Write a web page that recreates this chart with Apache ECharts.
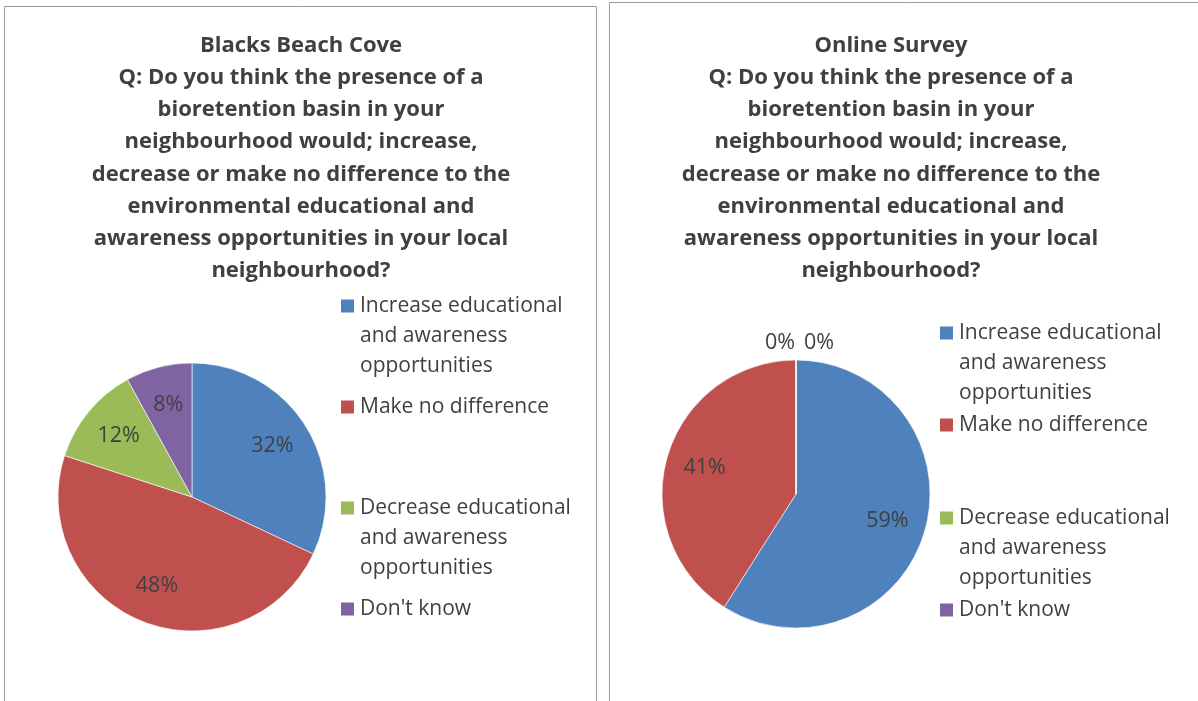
<!DOCTYPE html>
<html>
<head>
<meta charset="utf-8">
<title>Bioretention basin survey – educational and awareness opportunities</title>
<script src="https://cdn.jsdelivr.net/npm/echarts@6/dist/echarts.min.js"></script>
<style>
  html, body { margin: 0; padding: 0; background: #ffffff; }
  #chart { width: 1198px; height: 701px; }
</style>
</head>
<body>
<div id="chart"></div>
<script>
// Response categories (shared by both surveys)
const categories = [
  'Increase educational and awareness opportunities',
  'Make no difference',
  'Decrease educational and awareness opportunities',
  "Don't know"
];

// Share of respondents, in percent
const blacksBeachCove = [32, 48, 12, 8];
const onlineSurvey = [59, 41, 0, 0];

const question = 'Q: Do you think the presence of a\nbioretention basin in your\nneighbourhood would; increase,\ndecrease or make no difference to the\nenvironmental educational and\nawareness opportunities in your local\nneighbourhood?';
const titleLeft = 'Blacks Beach Cove\n' + question;
const titleRight = 'Online Survey\n' + question;

const colors = ['#4F81BD', '#C0504D', '#9BBB59', '#8064A2'];
const FONT = '"Open Sans", Lato, sans-serif';
const TEXT = '#404040';
const LINE_H = 30;
const R = 134;

const panels = [
  { title: titleLeft, titleX: 301, values: blacksBeachCove, center: [192, 497], legendX: 341, legendTops: [291, 392, 493, 594], box: { x: 4.5, y: 6.5, w: 592, h: 720 } },
  { title: titleRight, titleX: 891, values: onlineSurvey, center: [796, 494], legendX: 940, legendTops: [318, 410, 503, 595], box: { x: 609.5, y: 2.5, w: 620, h: 720 } }
];

// Greedy word wrap for the legend entries
function wrap(text, maxChars) {
  const words = text.split(' ');
  const lines = [];
  let cur = '';
  words.forEach(function (w) {
    const next = cur ? cur + ' ' + w : w;
    if (next.length > maxChars && cur) { lines.push(cur); cur = w; }
    else { cur = next; }
  });
  if (cur) lines.push(cur);
  return lines;
}

// Square legend marker sitting on the first text line, with an
// invisible anchor at the bottom so the icon box spans every line.
function markerPath(height) {
  return 'path://M0,0h0.01v0.01h-0.01z M0,8.5h13v13h-13z M0,' + (height - 0.01) + 'h0.01v0.01h-0.01z';
}

// Places each percentage label along the middle of its slice
function labelPlacer(values, center, radius) {
  const total = values.reduce(function (a, b) { return a + b; }, 0);
  return function (params) {
    const i = params.dataIndex;
    let before = 0;
    for (let k = 0; k < i; k++) before += values[k];
    const v = values[i];
    if (v === 0) {
      // zero-size slices: labels sit just outside the rim, side by side
      let zeroOrder = 0;
      for (let k = 0; k < i; k++) if (values[k] === 0) zeroOrder++;
      const ang = (before / total) * 2 * Math.PI;
      const bx = center[0] + (radius + 17) * Math.sin(ang);
      const by = center[1] - (radius + 17) * Math.cos(ang);
      return zeroOrder === 0
        ? { x: bx - 1, y: by, align: 'right', verticalAlign: 'middle' }
        : { x: bx + 8, y: by, align: 'left', verticalAlign: 'middle' };
    }
    const mid = ((before + v / 2) / total) * 2 * Math.PI;
    const k = 0.71;
    return {
      x: center[0] + k * radius * Math.sin(mid),
      y: center[1] - k * radius * Math.cos(mid),
      align: 'center',
      verticalAlign: 'middle'
    };
  };
}

const titles = [];
const legends = [];
const series = [];
const graphics = [];

panels.forEach(function (p, pi) {
  graphics.push({
    type: 'rect',
    shape: { x: p.box.x, y: p.box.y, width: p.box.w, height: p.box.h },
    style: { fill: 'none', stroke: '#9a9a9a', lineWidth: 1 },
    silent: true,
    z: -10
  });

  titles.push({
    text: p.title,
    left: p.titleX,
    top: 29.5,
    padding: 0,
    textAlign: 'center',
    textStyle: {
      fontFamily: FONT,
      fontSize: 22,
      fontWeight: 'bold',
      color: TEXT,
      lineHeight: 32.2
    }
  });

  categories.forEach(function (name, ci) {
    const lines = wrap(name, 20);
    const h = lines.length * LINE_H;
    legends.push({
      data: [name],
      left: p.legendX,
      top: p.legendTops[ci],
      padding: 0,
      itemWidth: 13,
      itemHeight: h,
      icon: markerPath(h),
      itemStyle: { borderWidth: 0 },
      selectedMode: false,
      formatter: function () { return lines.join('\n'); },
      textStyle: {
        fontFamily: FONT,
        fontSize: 21,
        color: TEXT,
        lineHeight: LINE_H,
        padding: [0, 0, 0, 1]
      }
    });
  });

  series.push({
    type: 'pie',
    name: pi === 0 ? 'Blacks Beach Cove' : 'Online Survey',
    center: p.center,
    radius: [0, R],
    startAngle: 90,
    clockwise: true,
    avoidLabelOverlap: false,
    color: colors,
    data: categories.map(function (name, i) { return { name: name, value: p.values[i] }; }),
    itemStyle: { borderColor: '#ffffff', borderWidth: 0.6 },
    label: {
      show: true,
      position: 'inside',
      formatter: '{c}%',
      fontFamily: FONT,
      fontSize: 21.5,
      color: TEXT
    },
    labelLine: { show: false },
    labelLayout: labelPlacer(p.values, p.center, R),
    emphasis: { scale: false },
    animation: false
  });
});

const chart = echarts.init(document.getElementById('chart'), null, { renderer: 'canvas' });
chart.setOption({
  backgroundColor: '#ffffff',
  animation: false,
  title: titles,
  legend: legends,
  tooltip: { show: false },
  graphic: graphics,
  series: series
});
</script>
</body>
</html>
